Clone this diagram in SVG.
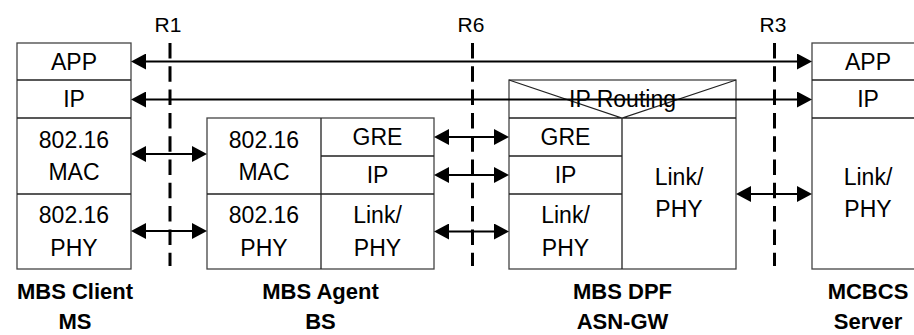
<svg xmlns="http://www.w3.org/2000/svg" width="914" height="335" viewBox="0 0 914 335">
<defs>
<style>
.box{fill:#fff;stroke:#444;stroke-width:1.3}
.ln{fill:none;stroke:#222;stroke-width:1.3}
.t{font-family:"Liberation Sans",Arial,sans-serif;font-size:23px;fill:#000;text-anchor:middle}
.lbl{font-family:"Liberation Sans",Arial,sans-serif;font-size:22px;font-weight:bold;fill:#000;text-anchor:middle}
.rp{font-family:"Liberation Sans",Arial,sans-serif;font-size:21px;fill:#000;text-anchor:middle}
.arr{fill:none;stroke:#000;stroke-width:2;marker-start:url(#ah);marker-end:url(#ah)}
.dash{fill:none;stroke:#000;stroke-width:3;stroke-dasharray:15.5 7.8}
</style>
<marker id="ah" markerUnits="userSpaceOnUse" viewBox="0 0 15 16" refX="12" refY="8" markerWidth="15" markerHeight="16" orient="auto-start-reverse">
<path d="M0,0 L15,8 L0,16 Z" fill="#000"/>
</marker>
</defs>
<rect width="914" height="335" fill="#fff"/>

<g id="ms">
<rect class="box" x="17" y="43" width="114" height="226"/>
<path class="ln" d="M17,80H131M17,118H131M17,194H131"/>
<text class="t" x="74" y="69.5">APP</text>
<text class="t" x="74" y="107">IP</text>
<text class="t" x="74" y="147.5">802.16</text>
<text class="t" x="74" y="180">MAC</text>
<text class="t" x="74" y="223">802.16</text>
<text class="t" x="74" y="255.5">PHY</text>
<text class="lbl" x="75" y="299">MBS Client</text>
<text class="lbl" x="75" y="329">MS</text>
</g>

<g id="bs">
<rect class="box" x="207" y="118" width="227" height="151"/>
<path class="ln" d="M321,118V269M207,194H434M321,156H434"/>
<text class="t" x="264" y="147.5">802.16</text>
<text class="t" x="264" y="180">MAC</text>
<text class="t" x="264" y="223">802.16</text>
<text class="t" x="264" y="255.5">PHY</text>
<text class="t" x="377.5" y="145">GRE</text>
<text class="t" x="377.5" y="183">IP</text>
<text class="t" x="377.5" y="223">Link/</text>
<text class="t" x="377.5" y="255.5">PHY</text>
<text class="lbl" x="320.5" y="299">MBS Agent</text>
<text class="lbl" x="320.5" y="329">BS</text>
</g>

<g id="dpf">
<rect class="box" x="509" y="80" width="227" height="189"/>
<path class="ln" d="M509,118H736M622,118V269M509,156H622M509,194H622M509,80L622,118L736,80"/>
<text class="t" x="622.5" y="107">IP Routing</text>
<text class="t" x="565.5" y="145">GRE</text>
<text class="t" x="565.5" y="183">IP</text>
<text class="t" x="565.5" y="223">Link/</text>
<text class="t" x="565.5" y="255.5">PHY</text>
<text class="t" x="679" y="185">Link/</text>
<text class="t" x="679" y="217">PHY</text>
<text class="lbl" x="622.5" y="299">MBS DPF</text>
<text class="lbl" x="622.5" y="329">ASN-GW</text>
</g>

<g id="server">
<rect class="box" x="812" y="43" width="112" height="226"/>
<path class="ln" d="M812,80H924M812,118H924"/>
<text class="t" x="868" y="69.5">APP</text>
<text class="t" x="868" y="107">IP</text>
<text class="t" x="868" y="185">Link/</text>
<text class="t" x="868" y="217">PHY</text>
<text class="lbl" x="868" y="299">MCBCS</text>
<text class="lbl" x="868" y="329">Server</text>
</g>

<g id="refpoints">
<text class="rp" x="168" y="32">R1</text>
<text class="rp" x="471" y="32">R6</text>
<text class="rp" x="773" y="32">R3</text>
</g>

<g id="connectors">
<path class="dash" d="M170,43V266"/>
<path class="dash" d="M472.5,43V266"/>
<path class="dash" d="M774.5,43V266"/>
<path class="arr" d="M134,61.5H809"/>
<path class="arr" d="M134,99.5H809"/>
<path class="arr" d="M134,154H204"/>
<path class="arr" d="M134,231H204"/>
<path class="arr" d="M437,137H506"/>
<path class="arr" d="M437,175H506"/>
<path class="arr" d="M437,231.5H506"/>
<path class="arr" d="M739,194H809"/>
</g>
</svg>
